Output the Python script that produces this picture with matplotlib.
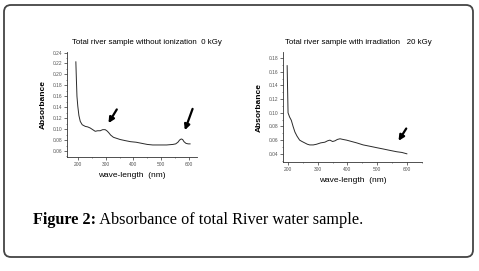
import matplotlib
matplotlib.use("Agg")
import matplotlib.pyplot as plt
from matplotlib.patches import FancyBboxPatch
from matplotlib.ticker import MultipleLocator

# 0 kGy spectrum
wl_0 = [192, 194, 196, 199, 203, 208, 215, 226, 235, 244, 253, 262, 271, 280,
        289, 298, 304, 310, 318, 328, 340, 352, 370, 390, 410, 430, 450, 470,
        495, 520, 543, 553, 561, 567, 573, 578, 583, 590, 598, 605]
abs_0 = [0.223, 0.190, 0.160, 0.142, 0.125, 0.114, 0.108, 0.105, 0.104, 0.102,
         0.099, 0.096, 0.097, 0.097, 0.099, 0.099, 0.097, 0.094, 0.089, 0.085,
         0.083, 0.081, 0.079, 0.077, 0.076, 0.074, 0.072, 0.071, 0.071, 0.071,
         0.072, 0.073, 0.076, 0.080, 0.082, 0.081, 0.077, 0.074, 0.073, 0.073]

# 20 kGy spectrum
wl_20 = [197, 198, 200, 205, 211, 217, 223, 230, 239, 247, 256, 265, 273, 285,
         296, 310, 324, 333, 341, 350, 358, 366, 375, 385, 397, 414, 431, 453,
         476, 498, 521, 543, 566, 583, 600]
abs_20 = [0.169, 0.145, 0.100, 0.094, 0.089, 0.080, 0.072, 0.066, 0.060, 0.058,
          0.056, 0.054, 0.053, 0.053, 0.054, 0.056, 0.057, 0.059, 0.060, 0.058,
          0.059, 0.061, 0.062, 0.061, 0.060, 0.058, 0.056, 0.053, 0.051, 0.049,
          0.047, 0.045, 0.043, 0.042, 0.040]

titles = ["Total river sample without ionization  0 kGy",
          "Total river sample with irradiation   20 kGy"]
caption_bold = "Figure 2:"
caption_rest = " Absorbance of total River water sample."

W, H = 479, 271
fig = plt.figure(figsize=(W / 100, H / 100), dpi=100)
plt.rcParams["font.family"] = ["Liberation Sans", "DejaVu Sans"]


def px(x, y):
    """pixel coords (from top-left) to figure fraction"""
    return x / W, 1 - y / H


def style_axes(ax, xlim, ylim, ystep):
    ax.set_xlim(*xlim)
    ax.set_ylim(*ylim)
    ax.xaxis.set_major_locator(MultipleLocator(100))
    ax.xaxis.set_minor_locator(MultipleLocator(50))
    ax.yaxis.set_major_locator(MultipleLocator(ystep))
    ax.yaxis.set_minor_locator(MultipleLocator(ystep / 2))
    ax.yaxis.set_major_formatter(plt.FuncFormatter(lambda v, p: "%.2f" % v))
    for s in ["top", "right"]:
        ax.spines[s].set_visible(False)
    for s in ["left", "bottom"]:
        ax.spines[s].set_linewidth(0.6)
        ax.spines[s].set_color("#333333")
    ax.tick_params(which="major", length=2, width=0.5, labelsize=3.5,
                   labelcolor="#555555", pad=1.5, color="#333333")
    ax.tick_params(which="minor", length=1, width=0.4, color="#333333")
    ax.set_xlabel("wave-length  (nm)", fontsize=6, labelpad=4)
    ax.set_ylabel("Absorbance", fontsize=6, fontweight="bold", labelpad=4)


arrow = dict(arrowstyle="-|>", color="black", lw=1.6,
             mutation_scale=8, shrinkA=0, shrinkB=0)

# left panel
ax1 = fig.add_axes([67 / W, 1 - 157 / H, 130 / W, 105 / H])
ax1.plot(wl_0, abs_0, color="#2a2a2a", lw=0.7)
style_axes(ax1, (160, 630), (0.049, 0.241), 0.02)
ax1.annotate("", xy=(310, 0.111), xytext=(340, 0.136), arrowprops=arrow)
ax1.annotate("", xy=(586, 0.098), xytext=(614, 0.137), arrowprops=arrow)

# right panel
ax2 = fig.add_axes([283 / W, 1 - 162 / H, 139 / W, 110 / H])
ax2.plot(wl_20, abs_20, color="#2a2a2a", lw=0.7)
style_axes(ax2, (183, 651), (0.028, 0.189), 0.02)
ax2.annotate("", xy=(572, 0.059), xytext=(598, 0.077), arrowprops=arrow)

fig.text(*px(147, 42), titles[0], fontsize=5.7, ha="center", va="center")
fig.text(*px(358, 42), titles[1], fontsize=5.7, ha="center", va="center")

# caption
t = fig.text(*px(33, 220), caption_bold, fontsize=11.7, fontweight="bold",
             family="Liberation Serif", ha="left", va="center")
fig.canvas.draw()
bb = t.get_window_extent()
fig.text(bb.x1 / W, 1 - 220 / H, caption_rest, fontsize=11.7,
         family="Liberation Serif", ha="left", va="center")

# rounded frame (in inches so the corners stay round)
box = FancyBboxPatch((0.04, 0.14), 4.69, 2.52,
                     boxstyle="round,pad=0,rounding_size=0.07",
                     transform=fig.dpi_scale_trans, fill=False,
                     edgecolor="#444444", lw=1.3)
fig.patches.append(box)

fig.savefig("out.png", dpi=100)
